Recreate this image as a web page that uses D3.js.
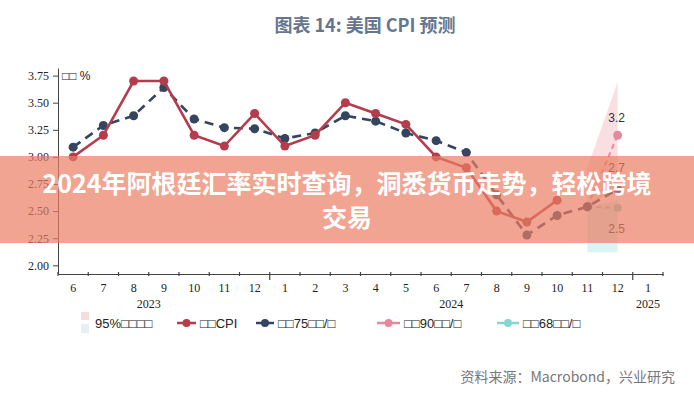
<!DOCTYPE html>
<meta charset="UTF-8">
<style>
  body {
    margin: 0;
    background: #fff;
  }

  svg {
    display: block;
    font-family: "Liberation Sans", "DejaVu Sans", sans-serif;
  }

  .axis .tick text {
    font-family: "Liberation Serif", serif;
    font-size: 12px;
    fill: #222;
  }

  .axis path,
  .axis line {
    stroke: #444;
  }

  .legend text {
    font-size: 13px;
    fill: #222;
  }
</style>

<body>
  <script src="https://cdn.jsdelivr.net/npm/d3@7/dist/d3.min.js"></script>
  <script>
    // months on the x axis (one band each)
    var monthKeys = ["2023-06", "2023-07", "2023-08", "2023-09", "2023-10", "2023-11", "2023-12",
      "2024-01", "2024-02", "2024-03", "2024-04", "2024-05", "2024-06", "2024-07", "2024-08",
      "2024-09", "2024-10", "2024-11", "2024-12", "2025-01"];
    var monthLabels = ["6", "7", "8", "9", "10", "11", "12", "1", "2", "3", "4", "5", "6",
      "7", "8", "9", "10", "11", "12", "1"];
    var yearLabels = ["2023", "2024", "2025"];
    var yearAnchor = ["2023-09", "2024-07", "2025-01"];
    var yearBoundaries = ["2024-01", "2025-01"];

    var yTicks = [2.00, 2.25, 2.50, 2.75, 3.00, 3.25, 3.50, 3.75];

    // US CPI yoy, Jun 2023 - Oct 2024
    var cpiValues = [3.0, 3.2, 3.7, 3.7, 3.2, 3.1, 3.4, 3.1, 3.2, 3.5, 3.4, 3.3, 3.0, 2.9, 2.5, 2.4, 2.6];
    // oil at 75 usd/bbl, Jun 2023 - Dec 2024
    var oil75Values = [3.09, 3.29, 3.38, 3.64, 3.35, 3.27, 3.26, 3.17, 3.22, 3.38, 3.33, 3.22, 3.15,
      3.04, 2.65, 2.28, 2.46, 2.54, 2.70];
    // other scenarios, Nov - Dec 2024
    var scenarioKeys = ["2024-11", "2024-12"];
    var oil90Values = [2.54, 3.20];
    var oil68Values = [2.54, 2.53];
    // 95% intervals
    var band90Low = [2.54, 2.72];
    var band90High = [2.90, 3.69];
    var band68Low = [2.12, 2.12];
    var band68High = [2.54, 2.60];

    var endLabels = ["3.2", "2.7", "2.5"];
    var legendNames = ["□□CPI", "□□75□□/□", "□□90□□/□", "□□68□□/□"];

    var red = "#b43c4c",
      navy = "#35445f",
      pink = "#e8889b",
      teal = "#84d6d0";

    var width = 694,
      height = 400;

    var svg = d3.select("body").append("svg")
      .attr("width", width)
      .attr("height", height);

    var x = d3.scaleBand().domain(monthKeys).range([58, 663]).padding(0);
    var y = d3.scaleLinear().domain([1.92, 3.82]).range([274, 68]);

    function xc(k) {
      return x(k) + x.bandwidth() / 2;
    }

    // title
    svg.append("text")
      .attr("x", 365)
      .attr("y", 32)
      .attr("text-anchor", "middle")
      .style("font-family", "'Noto Sans CJK SC', sans-serif")
      .style("font-size", "18px")
      .style("font-weight", "bold")
      .style("fill", "#66768e")
      .text("图表 14: 美国 CPI 预测");

    // y axis
    svg.append("g")
      .attr("class", "axis")
      .attr("transform", "translate(58,0)")
      .call(d3.axisLeft(y).tickValues(yTicks).tickFormat(d3.format(".2f")).tickSizeInner(5).tickSizeOuter(0).tickPadding(4));

    svg.append("text")
      .attr("x", 62)
      .attr("y", 80)
      .style("font-size", "12px")
      .style("fill", "#222")
      .text("□□ %");

    // x axis, labels centred in bands
    var xAxis = svg.append("g")
      .attr("class", "axis")
      .attr("transform", "translate(0,274)")
      .call(d3.axisBottom(x).tickFormat(function(d, i) {
        return monthLabels[i];
      }).tickSize(0).tickPadding(9));

    // boundary ticks
    var bounds = monthKeys.map(function(k) {
      return x(k);
    }).concat([x.range()[1]]);
    xAxis.selectAll("line.bound")
      .data(bounds)
      .enter().append("line")
      .attr("class", "bound")
      .attr("x1", function(d) { return d; })
      .attr("x2", function(d) { return d; })
      .attr("y1", function(d) {
        return yearBoundaries.some(function(k) { return x(k) === d; }) ? -2 : -2;
      })
      .attr("y2", function(d) {
        return yearBoundaries.some(function(k) { return x(k) === d; }) ? 6 : 2;
      })
      .attr("stroke", "#444")
      .attr("stroke-width", 1.2);

    svg.selectAll("text.year")
      .data(yearLabels)
      .enter().append("text")
      .attr("class", "year")
      .attr("x", function(d, i) {
        return i === 2 ? xc(yearAnchor[i]) : x(yearAnchor[i]);
      })
      .attr("y", 308)
      .attr("text-anchor", "middle")
      .style("font-family", "'Liberation Serif', serif")
      .style("font-size", "12px")
      .style("fill", "#222")
      .text(function(d) { return d; });

    // confidence bands
    var area = d3.area()
      .x(function(d) { return xc(d.k); })
      .y0(function(d) { return y(d.lo); })
      .y1(function(d) { return y(d.hi); });

    var b90 = scenarioKeys.map(function(k, i) {
      return { k: k, lo: band90Low[i], hi: band90High[i] };
    });
    var b68 = scenarioKeys.map(function(k, i) {
      return { k: k, lo: band68Low[i], hi: band68High[i] };
    });
    svg.append("path").attr("d", area(b90)).attr("fill", "#f2b9be").attr("fill-opacity", 0.45);
    svg.append("path").attr("d", area(b68)).attr("fill", "#a8e6e6").attr("fill-opacity", 0.45);

    var line = d3.line()
      .x(function(d) { return xc(d.k); })
      .y(function(d) { return y(d.v); });

    function series(keys, values) {
      return values.map(function(v, i) {
        return { k: keys[i], v: v };
      });
    }

    function drawSeries(data, color, dash, r, w) {
      svg.append("path")
        .datum(data)
        .attr("d", line)
        .attr("fill", "none")
        .attr("stroke", color)
        .attr("stroke-width", w)
        .attr("stroke-dasharray", dash);
      svg.append("g").selectAll("circle")
        .data(data)
        .enter().append("circle")
        .attr("cx", function(d) { return xc(d.k); })
        .attr("cy", function(d) { return y(d.v); })
        .attr("r", r)
        .attr("fill", color);
    }

    drawSeries(series(scenarioKeys, oil68Values), teal, "5,4", 4, 2);
    drawSeries(series(scenarioKeys, oil90Values), pink, "5,4", 4.5, 2);
    drawSeries(series(monthKeys, oil75Values), navy, "9,6", 4.5, 2.6);
    drawSeries(series(monthKeys, cpiValues), red, null, 4.5, 2.6);

    // scenario end labels
    var last = scenarioKeys[1];
    var endVals = [oil90Values[1], oil75Values[oil75Values.length - 1], oil68Values[1]];
    var endDy = [-13, -17, 25];
    svg.selectAll("text.endlab")
      .data(endLabels)
      .enter().append("text")
      .attr("class", "endlab")
      .attr("x", xc(last) - 1)
      .attr("y", function(d, i) { return y(endVals[i]) + endDy[i]; })
      .attr("text-anchor", "middle")
      .style("font-size", "12px")
      .style("fill", "#333")
      .text(function(d) { return d; });

    // legend
    var lg = svg.append("g").attr("class", "legend");
    lg.append("rect").attr("x", 81).attr("y", 312).attr("width", 8).attr("height", 8).attr("fill", "#f7dcdc");
    lg.append("rect").attr("x", 81).attr("y", 324).attr("width", 8).attr("height", 9).attr("fill", "#e6eff4");
    lg.append("text").attr("x", 95).attr("y", 328).text("95%□□□□");

    var legendColors = [red, navy, pink, teal];
    var legendX = [177, 256, 377, 497];
    var legendLen = [19, 18, 23, 22];
    var item = lg.selectAll("g.item")
      .data(legendNames)
      .enter().append("g")
      .attr("class", "item")
      .attr("transform", function(d, i) { return "translate(" + legendX[i] + ",323)"; });
    item.append("line")
      .attr("x1", 0)
      .attr("x2", function(d, i) { return legendLen[i]; })
      .attr("stroke", function(d, i) { return legendColors[i]; })
      .attr("stroke-width", 2.5);
    item.append("circle")
      .attr("cx", function(d, i) { return legendLen[i] / 2; })
      .attr("r", 4)
      .attr("fill", function(d, i) { return legendColors[i]; });
    item.append("text")
      .attr("x", function(d, i) { return legendLen[i] + 4; })
      .attr("y", 5)
      .text(function(d) { return d; });

    // source
    svg.append("text")
      .attr("x", 675)
      .attr("y", 382)
      .attr("text-anchor", "end")
      .style("font-family", "'Noto Sans CJK SC', sans-serif")
      .style("font-size", "14px")
      .style("fill", "#777")
      .text("资料来源：Macrobond，兴业研究");

    // banner over the chart
    svg.append("rect")
      .attr("x", 0)
      .attr("y", 156)
      .attr("width", width)
      .attr("height", 87)
      .attr("fill", "rgb(234,125,98)")
      .attr("fill-opacity", 0.7);

    var bannerLines = ["2024年阿根廷汇率实时查询，洞悉货币走势，轻松跨境", "交易"];
    svg.selectAll("text.banner")
      .data(bannerLines)
      .enter().append("text")
      .attr("class", "banner")
      .attr("x", 347)
      .attr("y", function(d, i) { return 193 + i * 34; })
      .attr("text-anchor", "middle")
      .style("font-family", "'Noto Sans CJK SC', sans-serif")
      .style("font-size", "25px")
      .style("font-weight", "bold")
      .style("fill", "#fff")
      .text(function(d) { return d; });
  </script>
</body>
